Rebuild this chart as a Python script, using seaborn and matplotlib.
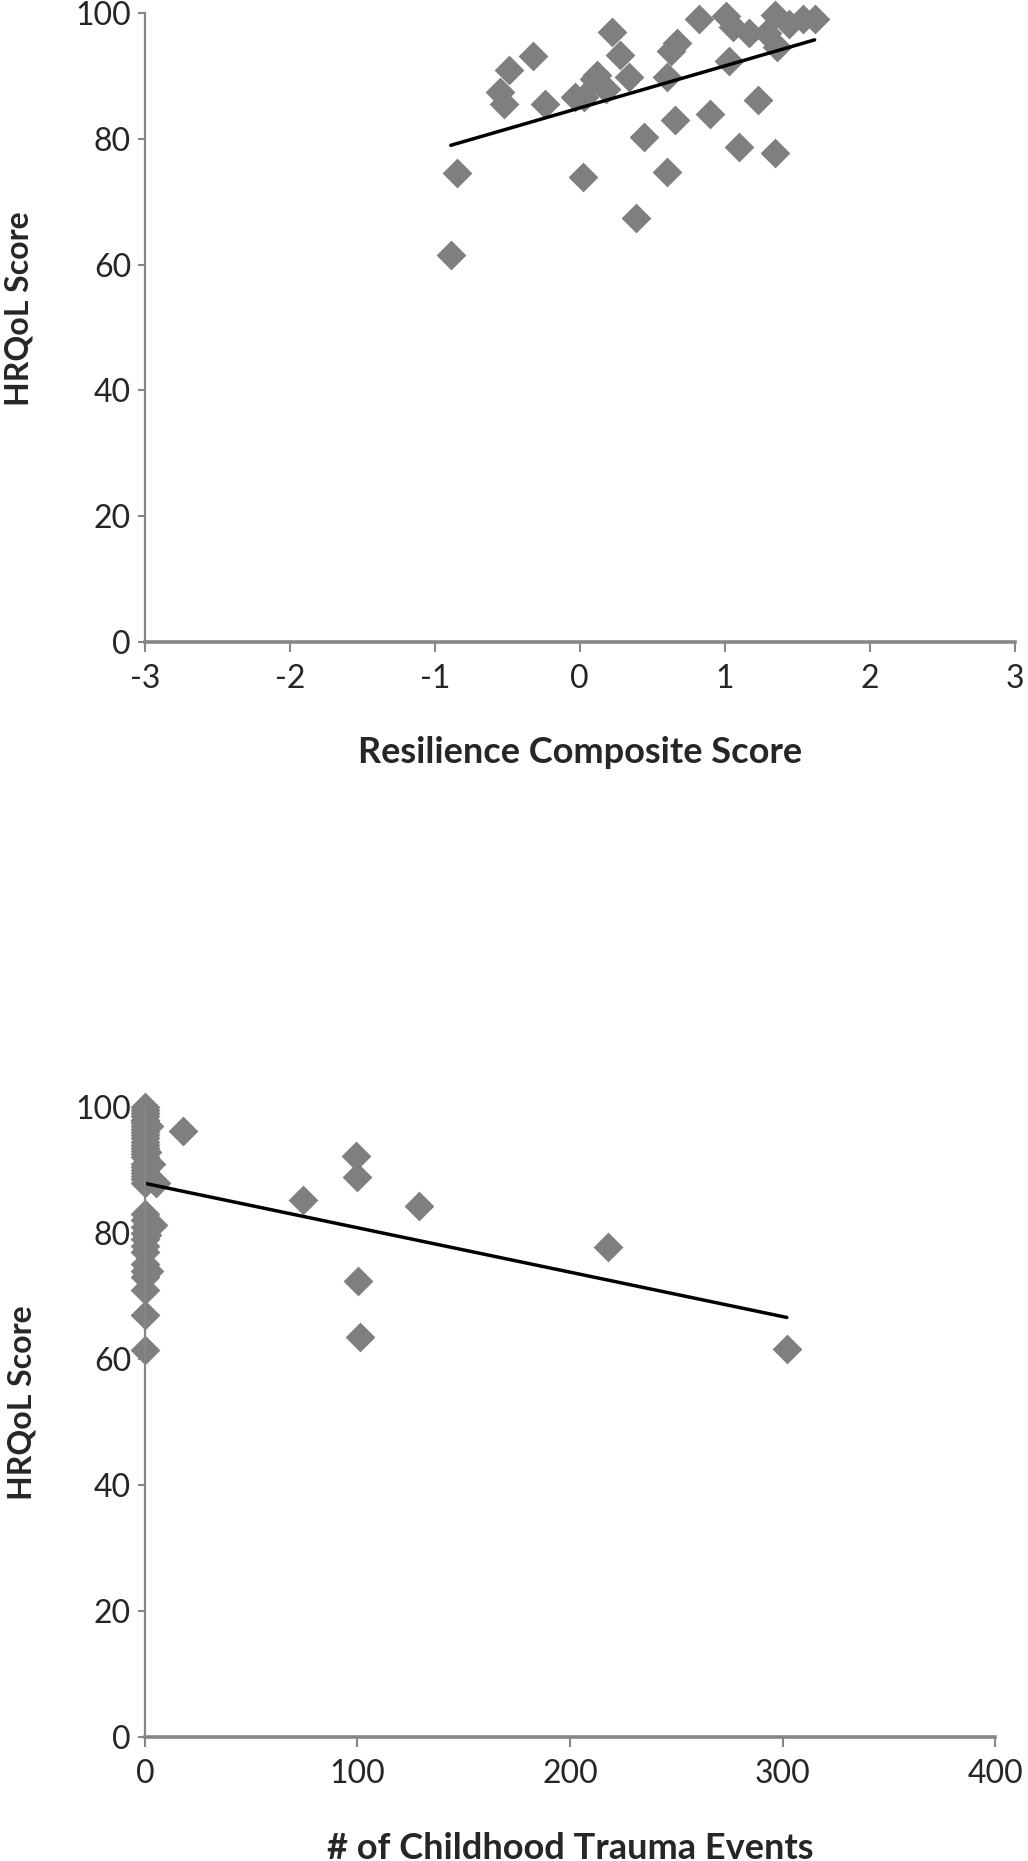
import seaborn as sns
import matplotlib.pyplot as plt
import warnings
warnings.filterwarnings("ignore")

# top panel: resilience vs HRQoL
resilience = [-0.89, -0.85, -0.55, -0.52, -0.49, -0.32, -0.24, -0.03, 0.03, 0.10,
              0.12, 0.18, 0.02, 0.22, 0.28, 0.34, 0.39, 0.44, 0.60, 0.60,
              0.63, 0.67, 0.66, 0.82, 0.90, 1.01, 1.06, 1.03, 1.10, 1.17,
              1.23, 1.29, 1.35, 1.36, 1.35, 1.44, 1.54, 1.62]
hrqol_top = [61.5, 74.5, 87.5, 85.6, 90.9, 93.1, 85.6, 86.7, 86.7, 89.5,
             90.1, 88.0, 74.0, 97.0, 93.3, 89.8, 67.4, 80.3, 74.8, 89.9,
             93.9, 95.2, 83.0, 99.1, 84.0, 99.5, 97.8, 92.3, 78.7, 96.8,
             86.2, 96.8, 99.7, 94.6, 77.7, 98.3, 99.1, 99.1]

# bottom panel: childhood trauma events vs HRQoL
trauma = [0, 0, 0, 0, 0, 0, 0, 0, 0, 0,
          0, 0, 0, 0, 0, 0, 0, 0, 0, 0,
          0, 0, 0, 0, 0, 0, 0, 0, 0, 0,
          0, 0, 0, 0, 0, 0, 0, 0,
          3, 5, 4, 2, 2, 1, 1,
          17.7, 74.5, 99.3, 99.6, 100.4, 101.2, 129, 218, 302]
hrqol_bot = [100, 99.5, 99, 98.5, 98, 97.8, 97.5, 97, 96.5, 96,
             95.5, 95, 94.5, 94, 93.5, 93, 92.5, 92, 91, 90.5,
             90, 89.5, 89, 88.5, 88, 83, 82, 81, 80, 79,
             78, 77, 75, 74, 73, 71, 67, 61.5,
             91, 88, 81.3, 96.9, 74, 79.7, 92.8,
             96.1, 85.2, 92.2, 88.9, 72.3, 63.5, 84.3, 77.7, 61.6]

y_ticks = [0, 20, 40, 60, 80, 100]
x_ticks_top = [-3, -2, -1, 0, 1, 2, 3]
x_ticks_bot = [0, 100, 200, 300, 400]

sns.set_theme(style="white")
plt.rcParams['font.family'] = ['Lato', 'DejaVu Sans']

grey = '#7f7f7f'
axis_grey = '#868686'

fig = plt.figure(figsize=(10.28, 18.61), dpi=100)
ax1 = fig.add_axes([0.141, 0.655, 0.846, 0.338])
ax2 = fig.add_axes([0.141, 0.0666, 0.827, 0.3386])

panels = [
    (ax1, resilience, hrqol_top, x_ticks_top, "Resilience Composite Score"),
    (ax2, trauma, hrqol_bot, x_ticks_bot, "# of Childhood Trauma Events"),
]

for ax, xs, ys, xt, xlab in panels:
    sns.regplot(x=xs, y=ys, ax=ax, ci=None, marker='D', color=grey,
                scatter_kws={'s': 230, 'linewidths': 0, 'alpha': 1, 'clip_on': False},
                line_kws={'color': 'black', 'lw': 2.5})
    ax.set_xlim(xt[0], xt[-1])
    ax.set_ylim(0, 100)
    ax.set_xticks(xt)
    ax.set_yticks(y_ticks)
    ax.set_xticklabels([str(t) for t in xt])
    for side in ['top', 'right']:
        ax.spines[side].set_visible(False)
    ax.spines['left'].set_color(axis_grey)
    ax.spines['left'].set_linewidth(1.6)
    ax.spines['bottom'].set_color(axis_grey)
    ax.spines['bottom'].set_linewidth(2.6)
    ax.tick_params(axis='x', direction='out', length=7, width=1.5, color=axis_grey,
                   pad=9, labelsize=23, bottom=True)
    ax.tick_params(axis='y', direction='out', length=5, width=1.5, color=axis_grey,
                   pad=5, labelsize=23, left=True)
    ax.set_xlabel(xlab, fontsize=26, fontweight='bold')
    ax.set_ylabel("HRQoL Score", fontsize=23, fontweight='bold')
    ax.xaxis.set_label_coords(0.5, -0.15)
    ax.yaxis.set_label_coords(-0.128, 0.53)

fig.savefig("out.png", dpi=100)
